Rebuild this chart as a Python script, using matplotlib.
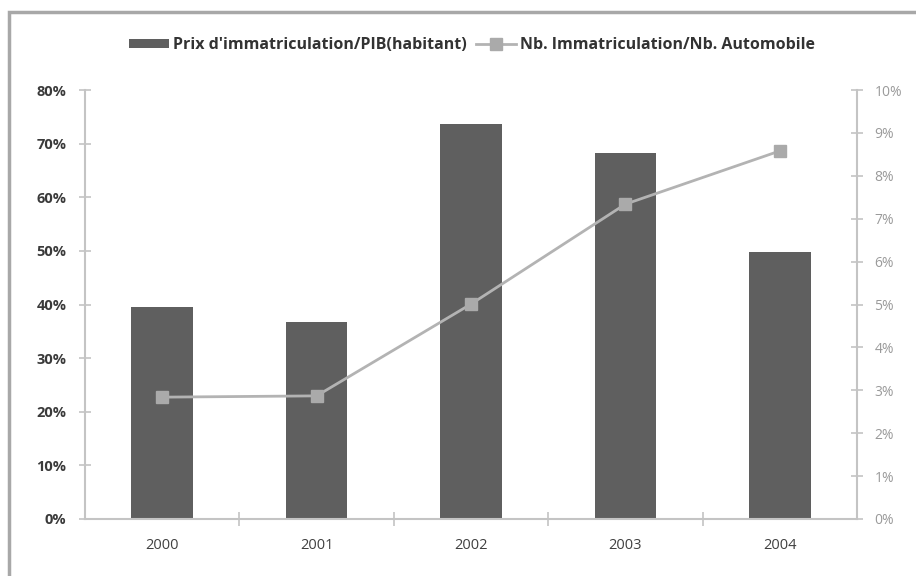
import matplotlib.pyplot as plt
from matplotlib.patches import Rectangle
from matplotlib.ticker import FuncFormatter

plt.rcParams['font.family'] = ['Open Sans', 'DejaVu Sans']

# data
annees = ['2000', '2001', '2002', '2003', '2004']
prix_pib = [39.5, 36.7, 73.7, 68.3, 49.8]
immat_auto = [2.84, 2.87, 5.01, 7.34, 8.58]

barre = '#5f5f5f'
ligne = '#b3b3b3'
axe = '#c4c4c4'

fig = plt.figure(figsize=(9.16, 5.76), dpi=100)
ax = fig.add_axes([0.0928, 0.099, 0.8428, 0.7447])
ax2 = ax.twinx()

x = list(range(len(annees)))
b = ax.bar(x, prix_pib, width=0.4, color=barre, zorder=2,
           label="Prix d'immatriculation/PIB(habitant)")
l, = ax2.plot(x, immat_auto, color=ligne, lw=2.0, marker='s', ms=9,
              mfc='#aaaaaa', mec='#aaaaaa', label='Nb. Immatriculation/Nb. Automobile')

ax.set_xlim(-0.5, 4.5)
ax.set_ylim(0, 80)
ax2.set_ylim(0, 10)
ax.set_yticks(range(0, 81, 10))
ax2.set_yticks(range(0, 11, 1))
ax.yaxis.set_major_formatter(FuncFormatter(lambda v, p: '%d%%' % v))
ax2.yaxis.set_major_formatter(FuncFormatter(lambda v, p: '%d%%' % v))

ax.set_xticks([0.5, 1.5, 2.5, 3.5])
ax.set_xticklabels([])
ax.set_xticks(x, minor=True)
ax.set_xticklabels(annees, minor=True)
ax.tick_params(axis='x', which='minor', length=0, pad=14, labelsize=10.5,
               labelcolor='#404040')
ax.tick_params(axis='x', which='major', direction='inout', length=10,
               color=axe, width=1.2)

for s in ['top', 'right']:
    ax.spines[s].set_visible(False)
for s in ['top', 'left', 'bottom']:
    ax2.spines[s].set_visible(False)
ax.spines['left'].set_color(axe)
ax.spines['bottom'].set_color(axe)
ax.spines['left'].set_linewidth(1.5)
ax.spines['bottom'].set_linewidth(1.5)
ax2.spines['right'].set_color(axe)
ax2.spines['right'].set_linewidth(1.5)

ax.tick_params(axis='y', direction='inout', length=9, color=axe, width=1.2,
               labelsize=10.5, labelcolor='#3a3a3a', pad=9)
for t in ax.get_yticklabels():
    t.set_fontweight('bold')
ax2.tick_params(axis='y', direction='inout', length=9, color=axe, width=1.2,
                labelsize=10, labelcolor='#9a9a9a', pad=8)

fig.legend([b, l], [b.get_label(), l.get_label()], loc='center',
           bbox_to_anchor=(0.515, 0.922), ncol=2, frameon=False,
           prop={'size': 11.5, 'weight': 'bold'}, labelcolor='#333333',
           handlelength=2.5, handleheight=0.5, columnspacing=0.6,
           handletextpad=0.25)

fig.patches.append(Rectangle((9 / 916, -0.05), 1.1, 1 - 12 / 576 + 0.05,
                             transform=fig.transFigure, fill=False,
                             edgecolor='#a8a8a8', lw=2.5))

plt.savefig('out.png')
